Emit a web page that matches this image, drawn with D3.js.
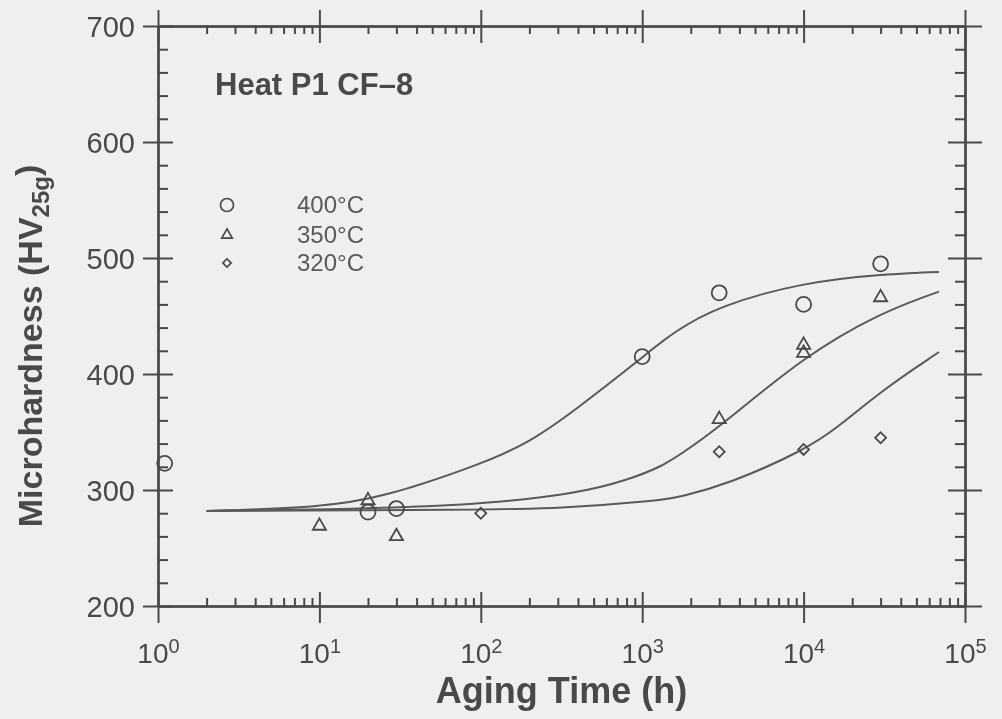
<!DOCTYPE html>
<html>
<head>
<meta charset="utf-8">
<script src="https://cdn.jsdelivr.net/npm/d3@7"></script>
<style>
  body { margin: 0; background: #efefed; }
  svg { display: block; }
</style>
</head>
<body>
<script>
// measured points (aging time in h, microhardness HV25g)
var series = ["400°C", "350°C", "320°C"];

var hours400 = [1.1, 20, 30, 1000, 3000, 10000, 30000];
var hv400 = [323, 281, 284, 415, 470, 460, 495];

var hours350 = [10, 20, 30, 3000, 10000, 10000, 30000];
var hv350 = [269, 291, 260, 361, 425, 418, 466];

var hours320 = [100, 3000, 10000, 30000];
var hv320 = [280, 333, 335, 345];

// fitted curves
var fitHours400 = [2, 10, 24, 100, 200, 370, 1000, 1550, 3000, 10000, 30000, 69000];
var fitHv400 = [282, 285, 293, 322, 341, 367, 414, 436, 459, 479, 486, 488];
var fitHours350 = [2, 10, 100, 400, 830, 1300, 1700, 3000, 10000, 30000, 69000];
var fitHv350 = [282, 283, 287, 297, 309, 320, 330, 354, 415, 453, 471];
var fitHours320 = [2, 100, 300, 1300, 1700, 3400, 10000, 16000, 30000, 69000];
var fitHv320 = [282, 283, 284, 291, 294, 305, 334, 353, 385, 419];

var yTicks = [200, 300, 400, 500, 600, 700];
var xTicks = [1, 10, 100, 1000, 10000, 100000];
var xTickExp = ["0", "1", "2", "3", "4", "5"];

var svgWidth = 1002;
var svgHeight = 719;
var margin = {top: 26, right: 37, bottom: 113, left: 158};
var width = svgWidth - margin.left - margin.right;
var height = svgHeight - margin.top - margin.bottom;

var ink = "#4a4a4a";
var font = "'Liberation Sans', Arial, Helvetica, sans-serif";

var svg = d3.select("body").append("svg")
  .attr("width", svgWidth)
  .attr("height", svgHeight);

svg.append("rect")
  .attr("width", svgWidth)
  .attr("height", svgHeight)
  .attr("fill", "#efefed");

// a little softness, like the scanned original
svg.append("defs").append("filter").attr("id", "scan")
  .append("feGaussianBlur").attr("stdDeviation", 0.5);

var chartGroup = svg.append("g")
  .attr("transform", `translate(${margin.left}, ${margin.top})`)
  .attr("filter", "url(#scan)");

// scales
var xScale = d3.scaleLog().domain([1, 1e5]).range([0, width]);
var yScale = d3.scaleLinear().domain([200, 700]).range([height, 0]);

var minorX = xScale.ticks().filter(d => xTicks.indexOf(d) < 0);
var minorY = yScale.ticks(25).filter(d => yTicks.indexOf(d) < 0);

// axes: one call per tick family
function axisPart(axis, transform, values, size) {
  var g = chartGroup.append("g")
    .attr("transform", transform)
    .call(axis.tickValues(values).tickSize(size).tickSizeOuter(0).tickFormat(""));
  g.selectAll("path, line").attr("stroke", ink).attr("stroke-width", 2);
  g.selectAll("text").remove();
  return g;
}

// left
var leftLab = axisPart(d3.axisLeft(yScale), "translate(0,0)", yTicks, 15);
axisPart(d3.axisLeft(yScale), "translate(0,0)", yTicks, -15);
axisPart(d3.axisLeft(yScale), "translate(0,0)", minorY, -10);
// right
axisPart(d3.axisRight(yScale), `translate(${width},0)`, yTicks, 17);
axisPart(d3.axisRight(yScale), `translate(${width},0)`, yTicks, -17);
axisPart(d3.axisRight(yScale), `translate(${width},0)`, minorY, -10);
// bottom
var bottomLab = axisPart(d3.axisBottom(xScale), `translate(0,${height})`, xTicks, 17);
axisPart(d3.axisBottom(xScale), `translate(0,${height})`, xTicks, -14);
axisPart(d3.axisBottom(xScale), `translate(0,${height})`, minorX, -8);
// top
axisPart(d3.axisTop(xScale), "translate(0,0)", xTicks, 16);
axisPart(d3.axisTop(xScale), "translate(0,0)", xTicks, -17);
axisPart(d3.axisTop(xScale), "translate(0,0)", minorX, -8);

// tick labels
leftLab.selectAll(".tick").append("text")
  .attr("x", -23)
  .attr("dy", "0.35em")
  .attr("text-anchor", "end")
  .attr("fill", ink)
  .style("font-family", font)
  .style("font-size", "29px")
  .text(d => d);

bottomLab.selectAll(".tick").each(function(d, i) {
  var t = d3.select(this).append("text")
    .attr("y", 57)
    .attr("text-anchor", "middle")
    .attr("fill", ink)
    .style("font-family", font)
    .style("font-size", "28px");
  t.append("tspan").text("10");
  t.append("tspan").attr("dy", "-0.5em").style("font-size", "20px").text(xTickExp[i]);
});

// fitted curves
var line = d3.line()
  .x(d => xScale(d[0]))
  .y(d => yScale(d[1]))
  .curve(d3.curveBasis);

var fits = [
  d3.zip(fitHours400, fitHv400),
  d3.zip(fitHours350, fitHv350),
  d3.zip(fitHours320, fitHv320)
];

chartGroup.selectAll(".fit")
  .data(fits)
  .enter()
  .append("path")
  .attr("class", "fit")
  .attr("d", line)
  .attr("fill", "none")
  .attr("stroke", "#5a5a5a")
  .attr("stroke-width", 2);

// markers
var triangle = d3.symbol().type(d3.symbolTriangle);
var square = d3.symbol().type(d3.symbolSquare);

chartGroup.selectAll(".p400")
  .data(d3.zip(hours400, hv400))
  .enter()
  .append("circle")
  .attr("cx", d => xScale(d[0]))
  .attr("cy", d => yScale(d[1]))
  .attr("r", 7.5)
  .attr("fill", "none")
  .attr("stroke", ink)
  .attr("stroke-width", 1.8);

chartGroup.selectAll(".p350")
  .data(d3.zip(hours350, hv350))
  .enter()
  .append("path")
  .attr("d", triangle.size(75))
  .attr("transform", d => `translate(${xScale(d[0])}, ${yScale(d[1])})`)
  .attr("fill", "none")
  .attr("stroke", ink)
  .attr("stroke-width", 1.8);

chartGroup.selectAll(".p320")
  .data(d3.zip(hours320, hv320))
  .enter()
  .append("path")
  .attr("d", square.size(60))
  .attr("transform", d => `translate(${xScale(d[0])}, ${yScale(d[1])}) rotate(45)`)
  .attr("fill", "none")
  .attr("stroke", ink)
  .attr("stroke-width", 1.8);

// legend
var legend = chartGroup.append("g").attr("transform", "translate(69, 179)");
var legendY = [0, 30, 58];

legend.append("circle")
  .attr("cx", 0).attr("cy", legendY[0]).attr("r", 6.5)
  .attr("fill", "none").attr("stroke", ink).attr("stroke-width", 1.7);
legend.append("path")
  .attr("d", triangle.size(48))
  .attr("transform", `translate(0, ${legendY[1]})`)
  .attr("fill", "none").attr("stroke", ink).attr("stroke-width", 1.7);
legend.append("path")
  .attr("d", square.size(34))
  .attr("transform", `translate(0, ${legendY[2]}) rotate(45)`)
  .attr("fill", "none").attr("stroke", ink).attr("stroke-width", 1.7);

legend.selectAll(".legendText")
  .data(series)
  .enter()
  .append("text")
  .attr("x", 70)
  .attr("y", (d, i) => legendY[i])
  .attr("dy", "0.35em")
  .attr("fill", "#5a5a5a")
  .style("font-family", font)
  .style("font-size", "24px")
  .text(d => d);

// labels
chartGroup.append("text")
  .attr("x", 57)
  .attr("y", 69)
  .attr("fill", ink)
  .style("font-family", font)
  .style("font-size", "31px")
  .style("font-weight", "bold")
  .text("Heat P1 CF–8");

chartGroup.append("text")
  .attr("x", width / 2)
  .attr("y", 677)
  .attr("text-anchor", "middle")
  .attr("fill", ink)
  .style("font-family", font)
  .style("font-size", "36px")
  .style("font-weight", "bold")
  .text("Aging Time (h)");

var yTitle = chartGroup.append("text")
  .attr("transform", "translate(-128, 320) rotate(-90)")
  .attr("text-anchor", "middle")
  .attr("dy", "0.35em")
  .attr("fill", ink)
  .style("font-family", font)
  .style("font-size", "34px")
  .style("font-weight", "bold");
yTitle.append("tspan").text("Microhardness (HV");
yTitle.append("tspan").attr("dy", "0.3em").style("font-size", "24px").text("25g");
yTitle.append("tspan").attr("dy", "-0.3em").text(")");
</script>
</body>
</html>
